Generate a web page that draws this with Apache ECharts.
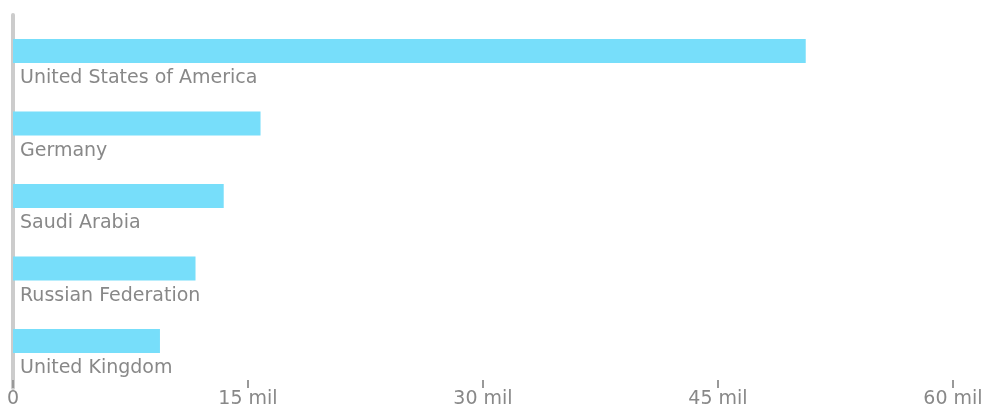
<!DOCTYPE html>
<html>
<head>
<meta charset="utf-8">
<script src="https://cdn.jsdelivr.net/npm/echarts@6/dist/echarts.min.js"></script>
<style>
html,body{margin:0;padding:0;background:#fff;}
#c{width:992px;height:418px;}
</style>
</head>
<body>
<div id="c"></div>
<script>
var categories = ["United States of America", "Germany", "Saudi Arabia", "Russian Federation", "United Kingdom"];
var values = [50600000, 15800000, 13450000, 11650000, 9380000];
var axisMin = 0;
var axisMax = 60000000;
var axisStep = 15000000;

var textColor = '#888888';
var fontFamily = 'DejaVu Sans';
var chart = echarts.init(document.getElementById('c'));
chart.setOption({
  animation: false,
  backgroundColor: '#fff',
  grid: [
    {left: 13, right: 39, top: 15, bottom: 30, containLabel: false},
    {left: 13, right: 39, top: 14.75, bottom: 40.75, containLabel: false}
  ],
  xAxis: [
    {
      gridIndex: 0, type: 'value', min: axisMin, max: axisMax, interval: axisStep,
      axisLine: {show: false},
      axisTick: {show: true, inside: true, length: 8, lineStyle: {color: '#999', width: 2}},
      splitLine: {show: false},
      axisLabel: {
        color: textColor, fontFamily: fontFamily, fontSize: 19, margin: 2,
        formatter: function (v) { return v === 0 ? '0' : (v / 1000000) + ' mil'; }
      }
    },
    {
      gridIndex: 1, type: 'value', min: axisMin, max: axisMax, interval: axisStep,
      show: false
    }
  ],
  yAxis: [
    {
      gridIndex: 0, type: 'category', data: categories, inverse: true,
      axisLine: {show: true, lineStyle: {color: '#cccccc', width: 4}},
      axisTick: {show: false},
      axisLabel: {show: false},
      splitLine: {show: false}
    },
    {
      gridIndex: 1, type: 'category', data: categories, inverse: true,
      show: false
    }
  ],
  series: [
    {
      type: 'bar', xAxisIndex: 1, yAxisIndex: 1, data: values, barWidth: 24,
      itemStyle: {color: '#77DEFA'}, silent: true,
      label: {
        show: true, position: [7, 30], formatter: '{b}',
        color: textColor, fontFamily: fontFamily, fontSize: 19,
        align: 'left', verticalAlign: 'top'
      }
    }
  ]
});
</script>
</body>
</html>
